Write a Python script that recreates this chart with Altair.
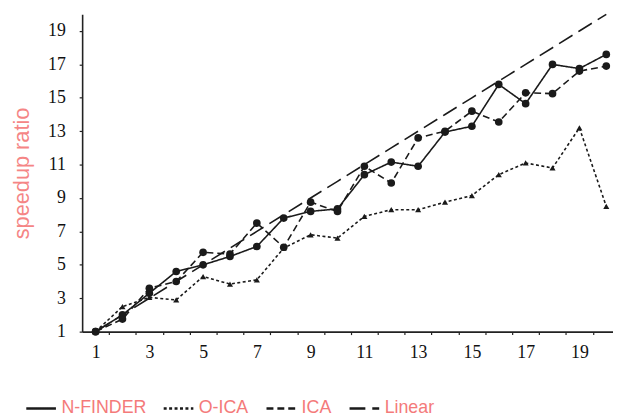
import altair as alt
import pandas as pd

x_vals = list(range(1, 21))
nfinder = [1.0, 2.0, 3.3, 4.6, 5.0, 5.5, 6.1, 7.8, 8.2, 8.35, 10.4, 11.15, 10.9, 12.95, 13.3, 15.8, 14.65, 17.0, 16.75, 17.6]
oica = [1.0, 2.5, 3.05, 2.9, 4.3, 3.85, 4.1, 6.0, 6.8, 6.6, 7.9, 8.3, 8.3, 8.75, 9.15, 10.4, 11.1, 10.8, 13.2, 8.5]
ica = [1.0, 1.75, 3.6, 4.0, 5.75, 5.65, 7.5, 6.05, 8.75, 8.2, 10.9, 9.9, 12.6, 13.0, 14.2, 13.55, 15.3, 15.25, 16.6, 16.9]
linear = [float(v) for v in x_vals]

series_names = ["N-FINDER", "O-ICA", "ICA", "Linear"]
series_values = [nfinder, oica, ica, linear]
x_tick_values = list(range(1, 20))
y_tick_values = [1, 3, 5, 7, 9, 11, 13, 15, 17, 19]

rows = []
for name, vals in zip(series_names, series_values):
    for xv, yv in zip(x_vals, vals):
        rows.append({"n": xv, "speedup": yv, "series": name})
df = pd.DataFrame(rows)

unit = 537 / 19.75
x_scale = alt.Scale(domain=[0.5, 20.25], nice=False, zero=False)
y_scale = alt.Scale(domain=[1, 20], nice=False, zero=False)

x_axis = alt.Axis(values=x_tick_values, grid=False,
                  labelExpr="datum.value % 2 == 1 ? datum.label : ''",
                  tickOffset=unit / 2, labelOffset=-unit / 2,
                  tickSize=3, labelPadding=9, labelOverlap=False)
y_axis = alt.Axis(values=y_tick_values, grid=False,
                  tickSize=3, labelPadding=14, labelOverlap=False,
                  labelSeparation=0, labelBound=False,
                  titleColor="#f58585", titleFont="Liberation Sans",
                  titleFontSize=22, titleFontWeight="normal",
                  titlePadding=14)

x_enc = alt.X("n:Q", scale=x_scale, title=None, axis=x_axis)
y_enc = alt.Y("speedup:Q", scale=y_scale, title="speedup ratio", axis=y_axis)

lines = alt.Chart(df).mark_line(color="#1a1a1a", strokeWidth=1.6).encode(
    x=x_enc,
    y=y_enc,
    strokeDash=alt.StrokeDash(
        "series:N",
        scale=alt.Scale(domain=series_names,
                        range=[[1, 0], [3, 2.5], [7, 4], [16, 7]]),
        legend=alt.Legend(title=None, orient="none", direction="horizontal",
                          columns=4, legendX=-58, legendY=382,
                          symbolType="stroke", symbolSize=900,
                          symbolStrokeWidth=2.5, symbolStrokeColor="#1a1a1a",
                          labelColor="#f47a7a", labelFont="Liberation Sans",
                          labelFontSize=18, labelOffset=4, columnPadding=12,
                          labelLimit=200),
    ),
)

circles = alt.Chart(df).transform_filter(
    (alt.datum.series == "N-FINDER") | (alt.datum.series == "ICA")
).mark_point(filled=True, color="#1a1a1a", opacity=1, shape="circle", size=60).encode(
    x=x_enc,
    y=y_enc,
)

triangles = alt.Chart(df).transform_filter(
    alt.datum.series == "O-ICA"
).mark_point(filled=True, color="#1a1a1a", opacity=1, shape="triangle-up", size=38).encode(
    x=x_enc,
    y=y_enc,
)

chart = alt.layer(lines, circles, triangles).properties(
    width=537,
    height=321,
    autosize=alt.AutoSizeParams(type="none"),
    padding={"left": 75, "top": 4, "right": 0, "bottom": 86},
).configure_view(stroke=None).configure_axis(
    domainColor="#222",
    domainWidth=1.6,
    tickColor="#222",
    tickWidth=1.2,
    labelFont="Liberation Serif",
    labelFontSize=18,
    labelColor="#111",
    labelOverlap=False,
)

chart.save("out.html", embed_options={"renderer": "svg", "actions": False})
